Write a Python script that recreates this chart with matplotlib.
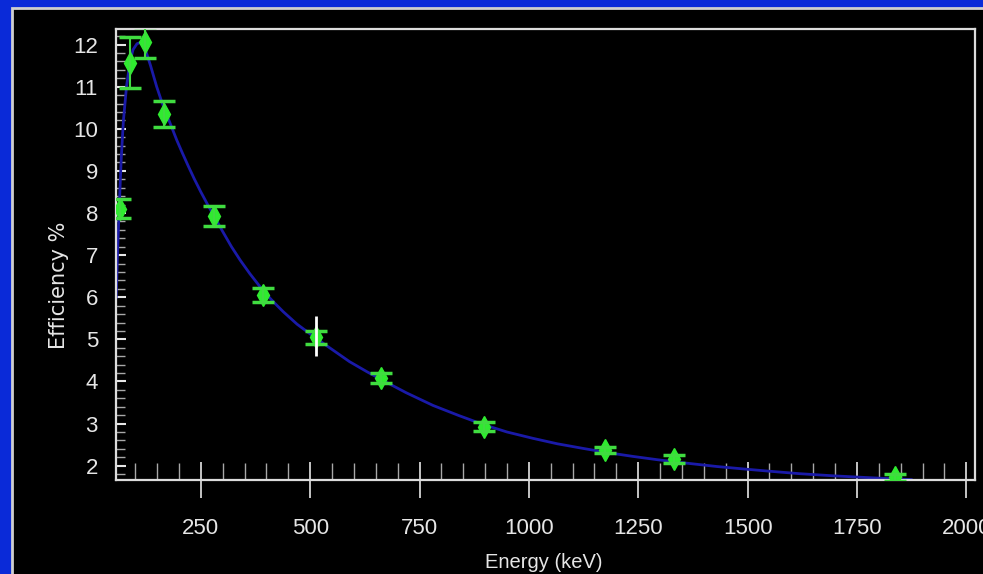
import matplotlib
matplotlib.use('Agg')
import matplotlib.pyplot as plt
from matplotlib.patches import Rectangle
from matplotlib.ticker import MultipleLocator

# --- data ---
energy = [66, 88, 122, 166, 279, 392, 514, 662, 898, 1173, 1332, 1836]
efficiency = [8.1, 11.57, 12.05, 10.35, 7.93, 6.05, 5.05, 4.08, 2.93, 2.38, 2.16, 1.72]
eff_err = [0.23, 0.6, 0.36, 0.3, 0.24, 0.16, 0.15, 0.12, 0.1, 0.07, 0.09, 0.08]

# fitted efficiency curve
curve_energy = [56.5, 60, 64, 68, 73, 80, 88, 95, 104, 112, 120, 126, 135, 149,
                160, 172, 184, 195, 208, 221, 235, 250, 265, 279, 300, 320, 340,
                362, 392, 415, 438, 470, 514, 550, 590, 630, 667, 720, 781, 840,
                895, 950, 1009, 1065, 1124, 1180, 1238, 1295, 1352, 1430, 1504,
                1560, 1619, 1695, 1750, 1809, 1874]
curve_eff = [6.0, 7.2, 8.3, 9.3, 10.2, 11.0, 11.6, 11.88, 12.02, 12.05, 11.95, 11.79,
             11.5, 11.0, 10.66, 10.33, 10.02, 9.73, 9.42, 9.12, 8.81, 8.5, 8.21,
             7.95, 7.56, 7.2, 6.88, 6.56, 6.16, 5.9, 5.66, 5.36, 5.02, 4.76, 4.47,
             4.23, 4.02, 3.73, 3.43, 3.19, 2.98, 2.8, 2.65, 2.52, 2.41, 2.31, 2.22,
             2.14, 2.07, 1.98, 1.91, 1.86, 1.81, 1.76, 1.73, 1.7, 1.67]

# white cursor sitting on the 514 keV point
cursor_energy = 514
cursor_low, cursor_high = 4.6, 5.55

x_label = 'Energy (keV)'
y_label = 'Efficiency %'

plt.rcParams['font.family'] = ['Liberation Sans', 'DejaVu Sans']

fg = '#e6e6e6'
fig = plt.figure(figsize=(9.83, 5.74), dpi=100, facecolor='#0a2ad8')

# black panel with light grey rim inside the blue frame
fig.add_artist(Rectangle((12 / 983, -0.05), 1.1, 1.05 - 8 / 574,
                         transform=fig.transFigure, facecolor='black',
                         edgecolor='#cfcfcf', linewidth=2, zorder=0))

ax = fig.add_axes([116 / 983, 94 / 574, 859 / 983, 451 / 574], facecolor='black')

ax.plot(curve_energy, curve_eff, color='#1a1aa8', lw=2, zorder=2)
# markers first, error bars with caps drawn over them
ax.plot(energy, efficiency, 'd', color='#30ea30', ms=11, zorder=3)
ax.errorbar(energy, efficiency, yerr=eff_err, fmt='none', ecolor='#40dc40',
            elinewidth=1.5, capsize=8, capthick=2.5, zorder=4)
ax.vlines(cursor_energy, cursor_low, cursor_high, color='white', lw=2, zorder=5)

ax.set_xlim(56, 2020)
ax.set_ylim(1.66, 12.37)

ax.set_xticks([250, 500, 750, 1000, 1250, 1500, 1750, 2000])
ax.xaxis.set_minor_locator(MultipleLocator(50))
ax.yaxis.set_major_locator(MultipleLocator(1))
ax.yaxis.set_minor_locator(MultipleLocator(0.2))

ax.tick_params(axis='x', which='major', direction='inout', length=26, width=1.2,
               color=fg, pad=14.5, labelsize=16, labelcolor=fg)
ax.tick_params(axis='x', which='minor', direction='in', length=12, width=1,
               color='#a8a8a8')
ax.tick_params(axis='y', which='major', direction='in', length=7.5, width=1.5,
               color=fg, pad=13, labelsize=16, labelcolor=fg)
ax.tick_params(axis='y', which='minor', direction='in', length=6.5, width=1,
               color='#a8a8a8')

for side in ['left', 'right', 'top', 'bottom']:
    ax.spines[side].set_color('#dcdcdc')
    ax.spines[side].set_linewidth(1.6)

fig.text(59 / 983, 1 - 285 / 574, y_label, rotation=90, ha='center', va='center',
         color=fg, fontsize=15, family='DejaVu Sans')
fig.text(544 / 983, 1 - 568.5 / 574, x_label, ha='center', va='baseline',
         color=fg, fontsize=14.5)

fig.savefig('out.png', dpi=100, facecolor=fig.get_facecolor())
